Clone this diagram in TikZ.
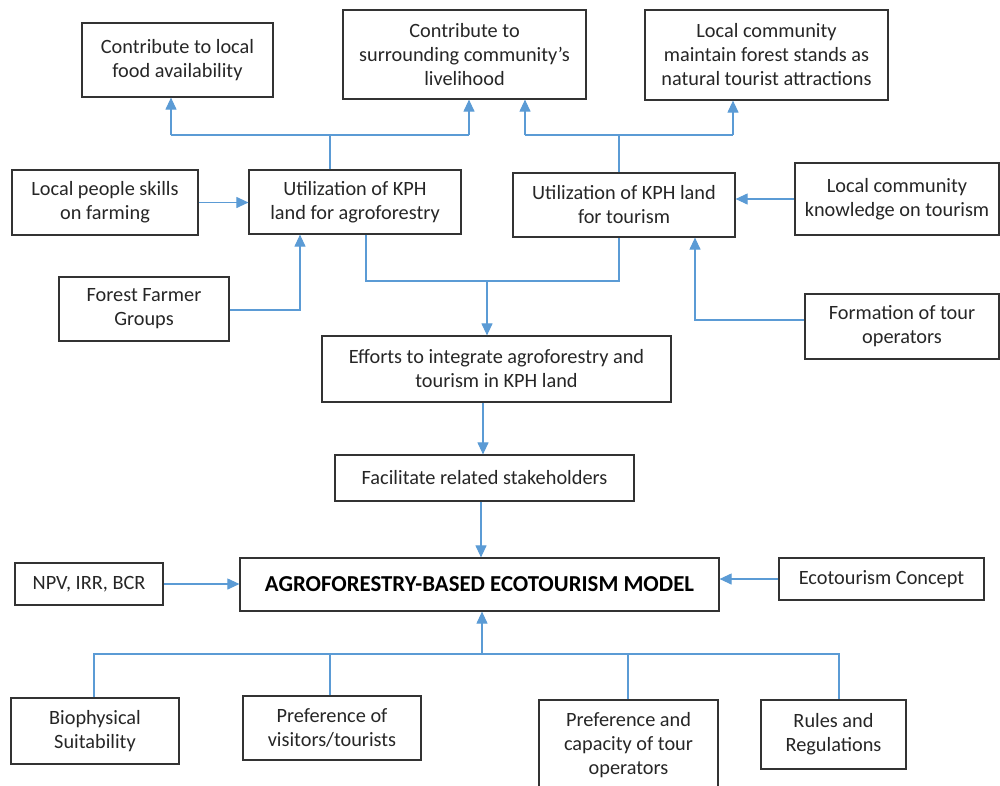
\documentclass[tikz,border=0pt]{standalone}
\usepackage{fontspec}
\setmainfont{Carlito}
\usetikzlibrary{arrows.meta}
\definecolor{ln}{HTML}{5B9BD5}
\definecolor{bd}{HTML}{333333}
\definecolor{tx}{HTML}{262626}
\begin{document}
\begin{tikzpicture}[x=1pt,y=-1pt,
  box/.style={draw=bd,line width=1.2pt,text=tx,align=center,inner sep=0pt,font=\fontsize{20.3}{24}\selectfont},
  conn/.style={draw=ln,line width=1.1pt},
  arr/.style={conn,-{Triangle[length=12pt,width=11pt]}}]
\useasboundingbox (0,0) rectangle (1000,785);
\begin{scope}
\clip (0,0) rectangle (1000,785);
\node[box,minimum width=191pt,minimum height=74pt] (b1) at (177.5,60) {Contribute to local\\food availability};
\node[box,minimum width=243pt,minimum height=89pt] (b2) at (464.5,54.5) {Contribute to\\surrounding community’s\\livelihood};
\node[box,minimum width=243pt,minimum height=90pt] (b3) at (766.5,55) {Local community\\maintain forest stands as\\natural tourist attractions};
\node[box,minimum width=186pt,minimum height=65pt] (b4) at (105,202.5) {Local people skills\\on farming};
\node[box,minimum width=212pt,minimum height=64pt] (b5) at (355,202) {Utilization of KPH\\land for agroforestry};
\node[box,minimum width=222pt,minimum height=64pt] (b6) at (624,205) {Utilization of KPH land\\for tourism};
\node[box,minimum width=204pt,minimum height=72pt] (b7) at (897,199) {Local community\\knowledge on tourism};
\node[box,minimum width=170pt,minimum height=64pt] (b8) at (144,309) {Forest Farmer\\Groups};
\node[box,minimum width=194pt,minimum height=65pt] (b9) at (902,326.5) {Formation of tour\\operators};
\node[box,minimum width=349pt,minimum height=66pt] (b10) at (496.5,369) {Efforts to integrate agroforestry and\\tourism in KPH land};
\node[box,minimum width=299pt,minimum height=46pt] (b11) at (484.5,478) {Facilitate related stakeholders};
\node[box,minimum width=479pt,minimum height=53pt,font=\fontsize{22.8}{26}\selectfont\bfseries,text=black] (b12) at (479.5,584.5) {AGROFORESTRY-BASED ECOTOURISM MODEL};
\node[box,minimum width=148pt,minimum height=42pt] (b13) at (89,584) {NPV, IRR, BCR};
\node[box,minimum width=205pt,minimum height=42pt] (b14) at (881.5,579) {Ecotourism Concept};
\node[box,minimum width=168pt,minimum height=66pt] (b15) at (95,731) {Biophysical\\Suitability};
\node[box,minimum width=178pt,minimum height=64pt] (b16) at (332,728) {Preference of\\visitors/tourists};
\node[box,minimum width=179pt,minimum height=90pt] (b17) at (628.5,745) {Preference and\\capacity of tour\\operators};
\node[box,minimum width=145pt,minimum height=69pt] (b18) at (833.5,734.5) {Rules and\\Regulations};

% top-left tree
\coordinate (ja) at (330,135);
\coordinate (jaL) at (171,135);
\coordinate (jaR) at (469,135);
\draw[conn] (b5.north -| ja) -- (ja);
\draw[conn] (jaL) -- (jaR);
\draw[arr] (jaL) -- (b1.south -| jaL);
\draw[arr] (jaR) -- (b2.south -| jaR);
% top-right tree
\coordinate (jb) at (619,135);
\coordinate (jbL) at (525,135);
\coordinate (jbR) at (733,135);
\draw[conn] (b6.north -| jb) -- (jb);
\draw[conn] (jbL) -- (jbR);
\draw[arr] (jbL) -- (b2.south -| jbL);
\draw[arr] (jbR) -- (b3.south -| jbR);
% side inputs
\draw[arr] (b4.east) -- (b5.west |- b4.east);
\draw[arr] (b7.west) -- (b6.east |- b7.west);
\coordinate (fa) at (300,310);
\draw[arr] (b8.east |- fa) -- (fa) -- (b5.south -| fa);
\coordinate (fb) at (695,320);
\draw[arr] (b9.west |- fb) -- (fb) -- (b6.south -| fb);
% merge
\coordinate (jc) at (487,281);
\coordinate (jcL) at (366,281);
\coordinate (jcR) at (619,281);
\draw[conn] (b5.south -| jcL) -- (jcL) -- (jcR) -- (b6.south -| jcR);
\draw[arr] (jc) -- (b10.north -| jc);
\coordinate (e1) at (483,0);
\draw[arr] (b10.south -| e1) -- (b11.north -| e1);
\coordinate (e2) at (481,0);
\draw[arr] (b11.south -| e2) -- (b12.north -| e2);
\draw[arr] (b13.east) -- (b12.west |- b13.east);
\draw[arr] (b14.west) -- (b12.east |- b14.west);
% bottom bus
\coordinate (jd) at (482,654);
\coordinate (jdL) at (94,654);
\coordinate (jdR) at (839,654);
\coordinate (jd2) at (330,654);
\coordinate (jd3) at (628,654);
\draw[conn] (b15.north -| jdL) -- (jdL) -- (jdR) -- (b18.north -| jdR);
\draw[conn] (b16.north -| jd2) -- (jd2);
\draw[conn] (b17.north -| jd3) -- (jd3);
\draw[arr] (jd) -- (b12.south -| jd);
\end{scope}
\end{tikzpicture}
\end{document}
